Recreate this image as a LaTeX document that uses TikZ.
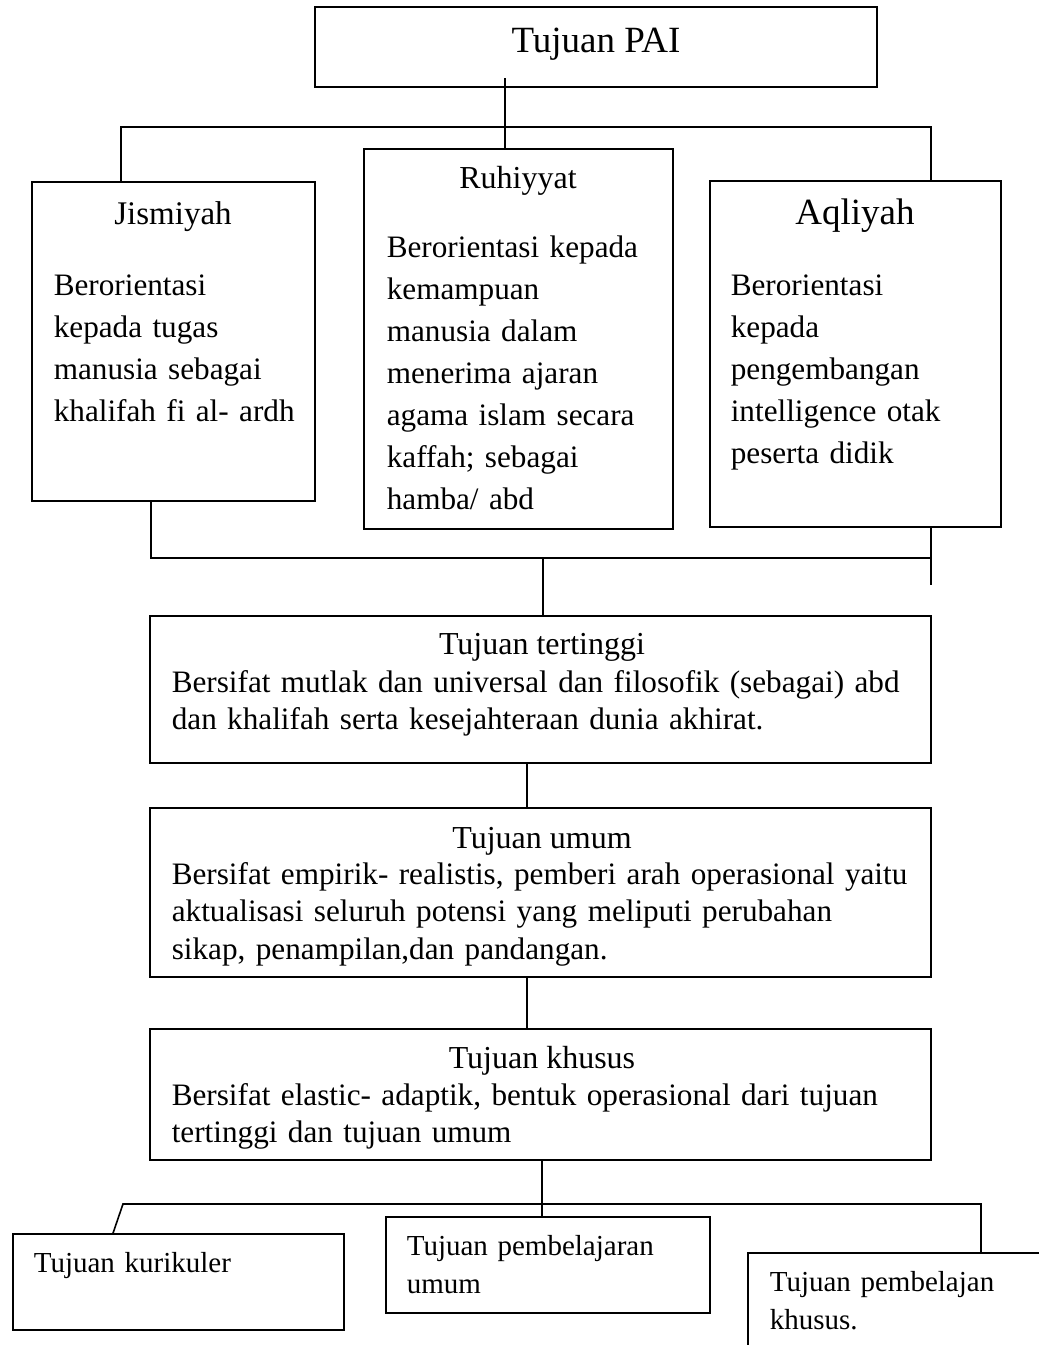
\documentclass[tikz,border=0pt]{standalone}
\usepackage{fontspec}
\setmainfont{Liberation Serif}

\begin{document}
\begin{tikzpicture}[x=1pt,y=-1pt,line width=1.6pt,
    box/.style={draw,inner sep=0pt},
    head/.style={inner sep=0pt,anchor=base,font=\fontsize{37}{42}\selectfont},
    lbl/.style={inner sep=0pt,anchor=base,font=\fontsize{32}{37.5}\selectfont},
    para/.style={inner sep=0pt,anchor=base west,align=left,text width=#1,font=\fontsize{31.2}{37.5}\selectfont},
    tall/.style={font=\fontsize{31.2}{42}\selectfont},
    small/.style={font=\fontsize{29}{38}\selectfont}]
        \useasboundingbox (0,0) rectangle (1039,1345);

        \node[box,minimum width=562pt,minimum height=80pt] (pai) at (596,47) {};
        \node[head] (paitxt) at (596,52) {Tujuan PAI};

        \node[box,minimum width=283pt,minimum height=319pt] (jis) at (173.5,341.5) {};
        \node[box,minimum width=309pt,minimum height=380pt] (ruh) at (518.5,339) {};
        \node[box,minimum width=291pt,minimum height=346pt] (aql) at (855.5,354) {};

        \node[lbl,font=\fontsize{33}{40}\selectfont] (jistxt) at (173,224) {Jismiyah};
        \node[para=300pt,tall] (jisisi) at (53,295) {Berorientasi\\ kepada tugas\\ manusia sebagai\\ khalifah fi al- ardh};

        \node[lbl] (ruhtxt) at (518,188) {Ruhiyyat};
        \node[para=300pt,tall] (ruhisi) at (386,257) {Berorientasi kepada\\ kemampuan\\ manusia dalam\\ menerima ajaran\\ agama islam secara\\ kaffah; sebagai\\ hamba/ abd};

        \node[head] (aqltxt) at (855,224) {Aqliyah};
        \node[para=300pt,tall] (aqlisi) at (730,295) {Berorientasi\\ kepada\\ pengembangan\\ intelligence otak\\ peserta didik};

        \node[box,minimum width=781pt,minimum height=147pt] (tinggi) at (540.5,689.5) {};
        \node[lbl] (tinggitxt) at (542,654) {Tujuan tertinggi};
        \node[para=820pt] (tinggiisi) at (171,692) {Bersifat mutlak dan universal dan filosofik (sebagai) abd\\ dan khalifah serta kesejahteraan dunia akhirat.};

        \node[box,minimum width=781pt,minimum height=169pt] (umum) at (540.5,892.5) {};
        \node[lbl] (umumtxt) at (542,848) {Tujuan umum};
        \node[para=820pt] (umumisi) at (171,884) {Bersifat empirik- realistis, pemberi arah operasional yaitu\\ aktualisasi seluruh potensi yang meliputi perubahan\\ sikap, penampilan,dan pandangan.};

        \node[box,minimum width=781pt,minimum height=131pt] (khusus) at (540.5,1094.5) {};
        \node[lbl] (khusustxt) at (542,1068) {Tujuan khusus};
        \node[para=820pt] (khususisi) at (171,1105) {Bersifat elastic- adaptik, bentuk operasional dari tujuan\\ tertinggi dan tujuan umum};

        \node[box,minimum width=331pt,minimum height=96pt] (kur) at (178.5,1282) {};
        \node[box,minimum width=324pt,minimum height=96pt] (pumum) at (548,1265) {};
        \node[box,minimum width=324pt,minimum height=134pt] (pkhusus) at (910,1320) {};

        \node[para=300pt,small] (kurtxt) at (33,1272) {Tujuan kurikuler};
        \node[para=300pt,small] (pumumtxt) at (406,1255) {Tujuan pembelajaran\\ umum};
        \node[para=270pt,small] (pkhusustxt) at (769,1291) {Tujuan pembelajan\\ khusus.};

        \coordinate (painn) at (505,78);
        \coordinate (jl) at (121,127);
        \coordinate (ar) at (931,127);
        \coordinate (jb) at (151,558);
        \coordinate (mb) at (543,558);
        \coordinate (ab) at (931,558);
        \coordinate (aend) at (931,585);
        \coordinate (c1) at (527,0);
        \coordinate (kb) at (542,1204);
        \coordinate (kl) at (123,1204);
        \coordinate (kr) at (981,1204);
        \coordinate (ks) at (113,0);

        \draw (painn) -- (painn |- ruh.north);
        \draw (jl |- jis.north) -- (jl) -- (ar) -- (ar |- aql.north);

        \draw (jb |- jis.south) -- (jb) -- (ab);
        \draw (ab |- aql.south) -- (aend);
        \draw (mb) -- (mb |- tinggi.north);

        \draw (c1 |- tinggi.south) -- (c1 |- umum.north);
        \draw (c1 |- umum.south) -- (c1 |- khusus.north);

        \draw (kb |- khusus.south) -- (kb |- pumum.north);
        \draw (ks |- kur.north) -- (kl) -- (kr) -- (kr |- pkhusus.north);
\end{tikzpicture}
\end{document}
